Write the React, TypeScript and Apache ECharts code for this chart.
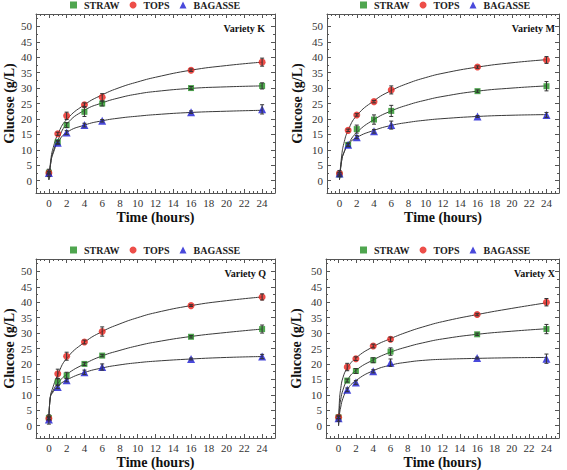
import React, { useEffect, useRef } from "react";
import * as echarts from "echarts";

// ---------- data ----------
const SERIES_NAMES = ["STRAW", "TOPS", "BAGASSE"];
const PANEL_NAMES = ["Variety K", "Variety M", "Variety Q", "Variety X"];
const TIMES = [0, 1, 2, 4, 6, 16, 24];

const X_TICKS = [0, 2, 4, 6, 8, 10, 12, 14, 16, 18, 20, 22, 24];
const Y_TICKS = [0, 5, 10, 15, 20, 25, 30, 35, 40, 45, 50];

// Variety K
const strawK = [2.6, 12.5, 18, 22.3, 25, 30, 30.7];
const strawErrK = [0.4, 0.5, 0.8, 1.5, 0.8, 0.5, 1.0];
const topsK = [2.5, 15.2, 21, 24.6, 27, 35.8, 38.4];
const topsErrK = [0.3, 0.5, 1.2, 0.6, 1.2, 0.4, 1.3];
const bagK = [2.5, 12.3, 15.6, 18, 19.4, 22.2, 23.1];
const bagErrK = [1.2, 0.5, 0.6, 0.6, 0.4, 0.4, 1.5];
const fitTK = [0, 0.25, 0.5, 1, 2, 4, 6, 8, 10, 12, 16, 20, 24];
const fitStrawK = [0.3, 6.5, 9.5, 13, 18.3, 22.8, 25.2, 26.9, 28.1, 28.9, 29.9, 30.4, 30.7];
const fitTopsK = [0.3, 7.5, 10.8, 15, 19.8, 24.6, 27.8, 30.2, 32, 33.5, 35.8, 37.3, 38.4];
const fitBagK = [0.3, 6.5, 9, 12.3, 15.6, 18, 19.4, 20.3, 20.9, 21.4, 22.1, 22.5, 22.8];

// Variety M
const strawM = [2, 11.6, 16.7, 19.8, 22.6, 29, 30.6];
const strawErrM = [0.5, 0.5, 1.3, 1.5, 1.8, 0.4, 1.5];
const topsM = [2.3, 16.3, 21.3, 25.6, 29.4, 36.8, 39.1];
const topsErrM = [0.4, 0.4, 0.4, 0.4, 1.3, 0.4, 1.1];
const bagM = [2.3, 11.6, 14.1, 16, 18, 20.8, 21.3];
const bagErrM = [1.0, 0.5, 0.5, 0.6, 1.3, 0.3, 0.8];
const fitTM = [0, 0.25, 0.5, 1, 2, 4, 6, 8, 10, 12, 16, 20, 24];
const fitStrawM = [0.3, 6.5, 9, 11.8, 15.6, 19.8, 22.6, 24.6, 26.1, 27.3, 29, 30, 30.7];
const fitTopsM = [0.3, 8, 12, 16.3, 21.1, 25.9, 29.2, 31.6, 33.4, 34.8, 36.8, 38.2, 39.2];
const fitBagM = [0.3, 6.5, 9, 11.7, 14, 16.3, 17.9, 18.9, 19.6, 20.1, 20.8, 21.2, 21.4];

// Variety Q
const strawQ = [2.5, 14.2, 16.3, 20, 22.7, 28.8, 31.3];
const strawErrQ = [0.5, 1.0, 1.0, 0.5, 0.4, 0.4, 1.3];
const topsQ = [2.3, 16.8, 22.5, 27.1, 30.5, 38.9, 41.7];
const topsErrQ = [0.4, 1.5, 1.3, 0.6, 1.5, 0.3, 1.0];
const bagQ = [2, 12.5, 14.7, 17.3, 19, 21.6, 22.4];
const bagErrQ = [1.5, 0.5, 0.5, 0.7, 1.0, 0.3, 0.7];
const fitTQ = [0, 0.15, 0.5, 1, 2, 4, 6, 8, 10, 12, 16, 20, 24];
const fitStrawQ = [1.5, 9, 11.5, 13.7, 16.6, 20, 22.6, 24.4, 25.9, 27.1, 28.9, 30.2, 31.3];
const fitTopsQ = [1.5, 9, 12.8, 16.5, 21.8, 27, 30.5, 33, 35, 36.6, 38.9, 40.5, 41.7];
const fitBagQ = [1.5, 9, 11, 12.8, 14.8, 17.2, 18.7, 19.7, 20.4, 20.9, 21.6, 22.1, 22.4];

// Variety X
const strawX = [2.7, 14.6, 17.7, 21.2, 24, 29.6, 31.3];
const strawErrX = [0.4, 0.5, 0.8, 0.8, 1.2, 0.4, 1.5];
const topsX = [2.7, 19, 21.7, 25.8, 28, 36, 40];
const topsErrX = [0.4, 1.2, 0.6, 0.6, 0.7, 0.4, 1.2];
const bagX = [2.4, 11.6, 14, 17.6, 20.4, 21.9, 21.7];
const bagErrX = [1.0, 0.6, 0.6, 0.5, 1.2, 0.3, 1.5];
const fitTX = [0, 0.1, 0.25, 0.5, 1, 2, 4, 6, 8, 10, 12, 16, 20, 24];
const fitStrawX = [0, 5.5, 8.5, 11.5, 14.7, 17.9, 21.3, 23.8, 25.6, 27, 28.1, 29.6, 30.6, 31.4];
const fitTopsX = [0, 8, 12, 15.5, 18.6, 21.9, 25.6, 28.2, 30.4, 32.2, 33.7, 36, 38, 39.8];
const fitBagX = [0, 3.5, 6, 8.8, 11.7, 14.6, 17.8, 19.6, 20.6, 21.2, 21.5, 21.8, 22, 22.1];

// ---------- assembly ----------
const PANELS = [
  { values: [strawK, topsK, bagK], errs: [strawErrK, topsErrK, bagErrK], fitT: fitTK, fits: [fitStrawK, fitTopsK, fitBagK] },
  { values: [strawM, topsM, bagM], errs: [strawErrM, topsErrM, bagErrM], fitT: fitTM, fits: [fitStrawM, fitTopsM, fitBagM] },
  { values: [strawQ, topsQ, bagQ], errs: [strawErrQ, topsErrQ, bagErrQ], fitT: fitTQ, fits: [fitStrawQ, fitTopsQ, fitBagQ] },
  { values: [strawX, topsX, bagX], errs: [strawErrX, topsErrX, bagErrX], fitT: fitTX, fits: [fitStrawX, fitTopsX, fitBagX] },
];

const GRIDS = [
  { left: 36, top: 14, width: 239, height: 179 },
  { left: 327, top: 14, width: 232, height: 179 },
  { left: 36, top: 259, width: 239, height: 179 },
  { left: 326, top: 259, width: 233, height: 179 },
];
const LEGEND_POS = [
  { left: 70, top: 0 },
  { left: 360, top: 0 },
  { left: 70, top: 245 },
  { left: 360, top: 245 },
];
const Y_NAME_GAP = [20, 23, 20, 23];
const VARIETY_POS = [
  { x: 265, y: 28 },
  { x: 555, y: 28 },
  { x: 266, y: 273 },
  { x: 555, y: 273 },
];

const XMIN = -1.45;
const XMAX = 25.45;
const YMIN = -4;
const YMAX = 54;

const COLORS = ["#239023", "#e8221c", "#1c1cd2"];
const SYMBOLS = ["rect", "circle", "triangle"];
const SYMBOL_SIZES = [6, 7, 8];
const FONT = "'Liberation Serif', 'Times New Roman', serif";
const FRAME = "#555";

function stepValues(from: number, to: number, step: number, exclude: number[]) {
  const out: number[] = [];
  for (let v = from; v <= to + 1e-9; v += step) {
    const r = Math.round(v * 100) / 100;
    if (!exclude.some((e) => Math.abs(e - r) < 1e-6)) out.push(r);
  }
  return out;
}

const X_MINOR = stepValues(-1, 25, 0.5, X_TICKS);
const Y_MINOR = stepValues(-2.5, 52.5, 2.5, Y_TICKS);

function buildOption() {
  const xAxis: any[] = [];
  const yAxis: any[] = [];
  const series: any[] = [];

  GRIDS.forEach((_, g) => {
    const baseX = { gridIndex: g, type: "value", min: XMIN, max: XMAX, splitLine: { show: false } };
    const baseY = { gridIndex: g, type: "value", min: YMIN, max: YMAX, splitLine: { show: false } };
    const line = { show: true, onZero: false, lineStyle: { color: FRAME, width: 1 } };
    const noLine = { show: false, onZero: false };
    const major = (vals: number[]) => ({ show: true, inside: true, length: 4, customValues: vals, lineStyle: { color: FRAME, width: 1 } });
    const minor = (vals: number[]) => ({ show: true, inside: true, length: 2, customValues: vals, lineStyle: { color: FRAME, width: 1 } });
    const noLabel = { show: false };

    xAxis.push({
      ...baseX,
      position: "bottom",
      axisLine: line,
      axisTick: major(X_TICKS),
      axisLabel: { show: true, customValues: X_TICKS, margin: 4, fontSize: 11, fontFamily: FONT, color: "#333" },
      name: "Time (hours)",
      nameLocation: "middle",
      nameGap: 17,
      nameTextStyle: { fontFamily: FONT, fontWeight: "bold", fontSize: 14, color: "#111" },
    });
    xAxis.push({ ...baseX, position: "bottom", axisLine: noLine, axisTick: minor(X_MINOR), axisLabel: noLabel });
    xAxis.push({ ...baseX, position: "top", axisLine: line, axisTick: major(X_TICKS), axisLabel: noLabel });
    xAxis.push({ ...baseX, position: "top", axisLine: noLine, axisTick: minor(X_MINOR), axisLabel: noLabel });

    yAxis.push({
      ...baseY,
      position: "left",
      axisLine: line,
      axisTick: major(Y_TICKS),
      axisLabel: { show: true, customValues: Y_TICKS, margin: 4, fontSize: 11, fontFamily: FONT, color: "#333" },
      name: "Glucose (g/L)",
      nameLocation: "middle",
      nameRotate: 90,
      nameGap: Y_NAME_GAP[g],
      nameTextStyle: { fontFamily: FONT, fontWeight: "bold", fontSize: 14, color: "#111" },
    });
    yAxis.push({ ...baseY, position: "left", axisLine: noLine, axisTick: minor(Y_MINOR), axisLabel: noLabel });
    yAxis.push({ ...baseY, position: "right", axisLine: line, axisTick: major(Y_TICKS), axisLabel: noLabel });
    yAxis.push({ ...baseY, position: "right", axisLine: noLine, axisTick: minor(Y_MINOR), axisLabel: noLabel });

    const p = PANELS[g];
    const xi = g * 4;
    const yi = g * 4;

    // fitted curves
    p.fits.forEach((fit, s) => {
      series.push({
        type: "line",
        name: SERIES_NAMES[s] + " fit",
        xAxisIndex: xi,
        yAxisIndex: yi,
        data: p.fitT.map((t, i) => [t, fit[i]]),
        smooth: 0.5,
        symbol: "none",
        showSymbol: false,
        lineStyle: { color: "#3a3a3a", width: 1 },
        z: 2,
        silent: true,
      });
    });

    // markers
    p.values.forEach((vals, s) => {
      series.push({
        type: "scatter",
        name: SERIES_NAMES[s],
        xAxisIndex: xi,
        yAxisIndex: yi,
        data: TIMES.map((t, i) => [t, vals[i]]),
        symbol: SYMBOLS[s],
        symbolSize: SYMBOL_SIZES[s],
        itemStyle: { color: COLORS[s] },
        z: 3,
      });
    });

    // error bars
    p.values.forEach((vals, s) => {
      series.push({
        type: "custom",
        name: SERIES_NAMES[s] + " error",
        xAxisIndex: xi,
        yAxisIndex: yi,
        data: TIMES.map((t, i) => [t, vals[i] - p.errs[s][i], vals[i] + p.errs[s][i]]),
        encode: { x: 0, y: [1, 2] },
        z: 4,
        silent: true,
        renderItem: (params: any, api: any) => {
          const x = api.value(0);
          const lo = api.coord([x, api.value(1)]);
          const hi = api.coord([x, api.value(2)]);
          const w = 2;
          const style = { stroke: "#333", lineWidth: 1 };
          return {
            type: "group",
            children: [
              { type: "line", shape: { x1: hi[0], y1: hi[1], x2: lo[0], y2: lo[1] }, style },
              { type: "line", shape: { x1: hi[0] - w, y1: hi[1], x2: hi[0] + w, y2: hi[1] }, style },
              { type: "line", shape: { x1: lo[0] - w, y1: lo[1], x2: lo[0] + w, y2: lo[1] }, style },
            ],
          };
        },
      });
    });
  });

  const legend = LEGEND_POS.map((pos) => ({
    data: SERIES_NAMES,
    left: pos.left,
    top: pos.top,
    orient: "horizontal",
    itemWidth: 7,
    itemHeight: 7,
    itemGap: 10,
    padding: 0,
    selectedMode: false,
    textStyle: { fontFamily: FONT, fontWeight: "bold", fontSize: 10, color: "#222", padding: [0, 0, 0, 2] },
  }));

  const graphic = PANEL_NAMES.map((name, i) => ({
    type: "text",
    x: VARIETY_POS[i].x,
    y: VARIETY_POS[i].y,
    style: {
      text: name,
      align: "right",
      verticalAlign: "middle",
      font: `bold 10px ${FONT}`,
      fill: "#111",
    },
    z: 10,
  }));

  return {
    animation: false,
    backgroundColor: "#ffffff",
    textStyle: { fontFamily: FONT },
    grid: GRIDS.map((g) => ({ ...g, containLabel: false })),
    xAxis,
    yAxis,
    legend,
    graphic,
    series,
  };
}

export default function App() {
  const ref = useRef<HTMLDivElement>(null);
  useEffect(() => {
    if (!ref.current) return;
    const chart = echarts.init(ref.current, undefined, { renderer: "svg" });
    chart.setOption(buildOption() as any);
    return () => chart.dispose();
  }, []);
  return (
    <div
      ref={ref}
      style={{ position: "absolute", left: 0, top: 0, width: 567, height: 470, background: "#fff" }}
    />
  );
}
